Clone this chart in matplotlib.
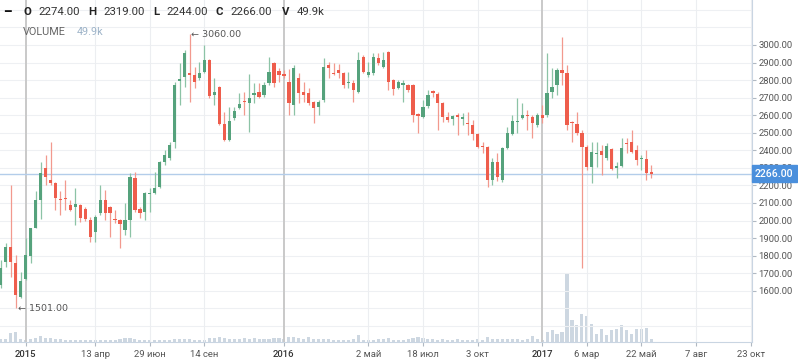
import matplotlib
matplotlib.use('Agg')
import matplotlib.pyplot as plt
import matplotlib.dates as mdates
import matplotlib.transforms as mtransforms
import pandas as pd

first_week = '2014-12-01'
opens = [1632, 1763, 1849, 1758, 1564, 1667, 1798, 1957, 2117, 2299,
         2231, 2214, 2123, 2128, 2088, 2077, 2088, 2066, 2003, 1934,
         2043, 2117, 2077, 2009, 2003, 1946, 2003, 2242, 2066, 2049,
         2151, 2157, 2191, 2333, 2356, 2447, 2795, 2818, 2840, 2829,
         2812, 2846, 2915, 2715, 2761, 2550, 2459, 2584, 2641, 2681,
         2670, 2715, 2732, 2715, 2783, 2897, 2852, 2835, 2789, 2658,
         2812, 2732, 2726, 2675, 2647, 2687, 2886, 2840, 2858, 2840,
         2783, 2783, 2732, 2932, 2829, 2840, 2926, 2875, 2960, 2801,
         2755, 2772, 2772, 2772, 2607, 2590, 2652, 2738, 2721, 2670,
         2590, 2578, 2601, 2578, 2556, 2544, 2493, 2425, 2419, 2231,
         2333, 2231, 2413, 2493, 2561, 2584, 2601, 2590, 2544, 2601,
         2601, 2732, 2772, 2858, 2840, 2561, 2550, 2499, 2419, 2305,
         2379, 2396, 2356, 2407, 2299, 2311, 2442, 2447, 2402, 2350,
         2350, 2274]
highs = [1775, 1872, 2202, 1803, 1706, 1900, 1957, 2168, 2333, 2373,
         2447, 2219, 2168, 2231, 2117, 2185, 2095, 2077, 2020, 2031,
         2202, 2174, 2080, 2060, 2008, 2100, 2271, 2276, 2077, 2165,
         2185, 2276, 2340, 2402, 2447, 2789, 2897, 2972, 3060, 2875,
         2903, 3000, 2920, 2812, 2765, 2618, 2647, 2647, 2726, 2732,
         2835, 2783, 2783, 2789, 2932, 2903, 2869, 2858, 2863, 2886,
         2840, 2789, 2755, 2680, 2687, 2926, 2903, 2897, 2892, 2846,
         2846, 2801, 2960, 2940, 2903, 2954, 2954, 2960, 2965, 2805,
         2801, 2801, 2778, 2778, 2612, 2687, 2744, 2744, 2732, 2675,
         2618, 2601, 2613, 2613, 2618, 2573, 2498, 2447, 2425, 2356,
         2385, 2420, 2533, 2601, 2698, 2670, 2630, 2601, 2613, 2658,
         2954, 2869, 2869, 3045, 2886, 2566, 2618, 2516, 2430, 2447,
         2447, 2430, 2442, 2413, 2333, 2470, 2470, 2516, 2430, 2373,
         2402, 2319]
lows = [1615, 1735, 1678, 1501, 1558, 1661, 1758, 1957, 2009, 2202,
        2202, 2060, 2031, 2060, 2055, 1974, 1991, 1997, 1877, 1877,
        2031, 2003, 1906, 1986, 1843, 1917, 1906, 2049, 2014, 2003,
        2049, 2150, 2185, 2316, 2345, 2413, 2658, 2761, 2675, 2755,
        2801, 2840, 2698, 2658, 2544, 2455, 2453, 2573, 2635, 2601,
        2504, 2670, 2698, 2704, 2772, 2761, 2789, 2812, 2601, 2601,
        2670, 2675, 2658, 2556, 2601, 2675, 2812, 2829, 2812, 2755,
        2755, 2675, 2726, 2840, 2818, 2829, 2886, 2870, 2744, 2715,
        2750, 2675, 2732, 2561, 2499, 2585, 2641, 2704, 2516, 2561,
        2561, 2544, 2487, 2544, 2487, 2459, 2413, 2385, 2191, 2202,
        2225, 2219, 2405, 2487, 2499, 2578, 2516, 2470, 2533, 2556,
        2590, 2698, 2715, 2772, 2516, 2447, 2487, 1729, 2288, 2214,
        2305, 2259, 2345, 2288, 2242, 2305, 2385, 2385, 2316, 2288,
        2231, 2244]
closes = [1729, 1849, 1763, 1575, 1655, 1803, 1957, 2117, 2271, 2248,
          2214, 2128, 2117, 2123, 2060, 2094, 2014, 2009, 1906, 2020,
          2117, 2043, 2043, 2003, 1980, 2003, 2248, 2060, 2043, 2157,
          2157, 2185, 2333, 2373, 2430, 2772, 2806, 2954, 2829, 2789,
          2840, 2915, 2709, 2732, 2550, 2459, 2567, 2624, 2664, 2675,
          2698, 2726, 2704, 2772, 2846, 2783, 2829, 2823, 2670, 2869,
          2726, 2715, 2670, 2641, 2675, 2875, 2869, 2835, 2840, 2772,
          2789, 2744, 2915, 2846, 2846, 2932, 2897, 2915, 2789, 2749,
          2789, 2783, 2744, 2601, 2596, 2647, 2715, 2726, 2670, 2590,
          2573, 2596, 2590, 2590, 2550, 2493, 2419, 2419, 2231, 2333,
          2248, 2413, 2499, 2567, 2567, 2601, 2596, 2556, 2601, 2584,
          2726, 2761, 2858, 2840, 2544, 2556, 2499, 2419, 2305, 2390,
          2385, 2373, 2425, 2293, 2311, 2413, 2436, 2390, 2345, 2356,
          2271, 2266]
volumes_k = [50, 40, 130, 150, 40, 35, 45, 60, 85, 60,
             55, 45, 40, 30, 35, 25, 30, 25, 30, 35,
             30, 25, 35, 30, 40, 65, 60, 40, 30, 25,
             30, 30, 35, 30, 35, 50, 45, 40, 45, 35,
             30, 35, 55, 60, 75, 60, 50, 40, 45, 55,
             50, 60, 50, 40, 45, 55, 60, 45, 70, 75,
             55, 50, 70, 45, 50, 40, 45, 35, 30, 35,
             30, 40, 110, 35, 30, 35, 40, 45, 55, 35,
             30, 35, 40, 55, 80, 60, 45, 40, 35, 45,
             30, 35, 40, 25, 35, 30, 40, 35, 80, 50,
             45, 45, 40, 45, 40, 35, 40, 85, 50, 35,
             150, 185, 125, 145, 1020, 335, 260, 425, 385, 275,
             125, 200, 100, 185, 190, 260, 175, 115, 200, 200,
             215, 49.9]

tick_dates = ['2015-01-05', '2015-04-13', '2015-06-29', '2015-09-14', '2016-01-04',
              '2016-05-02', '2016-07-18', '2016-10-03', '2017-01-02', '2017-03-06',
              '2017-05-22', '2017-08-07', '2017-10-23']
tick_labels = ['2015', '13 апр', '29 июн', '14 сен', '2016', '2 май', '18 июл',
               '3 окт', '2017', '6 мар', '22 май', '7 авг', '23 окт']
year_labels = {'2015', '2016', '2017'}
price_ticks = list(range(1600, 3001, 100))
grid_levels = list(range(1300, 3301, 100))
last_price = 2266

plt.rcParams['font.family'] = ['Roboto', 'DejaVu Sans']

GREEN = '#55a27c'
RED = '#ee5d4c'
GREEN_W = '#8cc3a6'
RED_W = '#f2998e'

W, H = 798, 363
fig = plt.figure(figsize=(W / 100, H / 100), dpi=100)
ax = fig.add_axes([0, 21 / H, 752 / W, 342 / H])
axv = ax.twinx()
ax.set_zorder(axv.get_zorder() + 1)
ax.patch.set_visible(False)

dates = pd.date_range(first_week, periods=len(opens), freq='7D')
x = mdates.date2num(dates)
tx = mdates.date2num(pd.to_datetime(tick_dates))

# volume
axv.bar(x, volumes_k, width=4.4, color='#cdd7e1', align='center', zorder=1)
axv.set_ylim(0, 5130)
axv.set_yticks([])
for s in axv.spines.values():
    s.set_visible(False)

# grid
for g in grid_levels:
    ax.axhline(g, color='#eef0f3', lw=0.8, zorder=0)
for t, lab in zip(tx, tick_labels):
    if lab in year_labels:
        ax.axvline(t, color='#c9c9c9', lw=1.4, zorder=0)
    else:
        ax.axvline(t, color='#eceef1', lw=0.8, zorder=0)

# last price line
ax.axhline(last_price, color='#b3cdea', lw=1.0, zorder=1)

# candles
for xi, o, h, l, c in zip(x, opens, highs, lows, closes):
    up = c >= o
    col = GREEN if up else RED
    wcol = GREEN_W if up else RED_W
    ax.vlines(xi, l, h, color=wcol, lw=0.9, zorder=2)
    lo = min(o, c)
    hgt = max(abs(c - o), 4)
    ax.bar(xi, hgt, bottom=lo, width=4.6, color=col, lw=0, zorder=3)

ax.set_xlim(x[0] - 1.2, tx[-1] + 1.8)
ax.set_ylim(1308, 3256)

# axes styling
for side in ['top', 'left']:
    ax.spines[side].set_visible(False)
ax.spines['right'].set_color('#c9d5e2')
ax.spines['bottom'].set_color('#c9d5e2')
ax.yaxis.tick_right()
ax.set_yticks(price_ticks)
ax.set_yticklabels([f'{p:.2f}' for p in price_ticks])
ax.tick_params(axis='y', length=3, width=0.8, color='#b0b8c2', pad=1.5,
               labelsize=6.8, labelcolor='#555555')
ax.set_xticks(tx)
ax.set_xticklabels(tick_labels)
ax.tick_params(axis='x', length=3, width=0.8, color='#b0b8c2', pad=3,
               labelsize=6.8, labelcolor='#555555')
for lbl in ax.get_xticklabels():
    if lbl.get_text() in year_labels:
        lbl.set_color('#333333')
        lbl.set_fontweight('medium')

# last price box
trans = mtransforms.blended_transform_factory(ax.transAxes, ax.transData)
ax.text(1.004, last_price, f'{last_price:.2f}', transform=trans, ha='left', va='center',
        fontsize=7.6, color='white', fontweight='medium', zorder=10,
        bbox=dict(boxstyle='square,pad=0.33', fc='#4a8fdc', ec='#4a8fdc'), clip_on=False)

# high/low annotations
i_hi = highs.index(max(highs))
i_lo = lows.index(min(lows))
ax.text(x[i_hi] + 2.5, highs[i_hi], f'← {highs[i_hi]:.2f}', fontsize=6.8, color='#555555',
        ha='left', va='center', family=['DejaVu Sans'], zorder=5)
ax.text(x[i_lo] + 2.5, lows[i_lo], f'← {lows[i_lo]:.2f}', fontsize=6.8, color='#555555',
        ha='left', va='center', family=['DejaVu Sans'], zorder=5)

# header
def ftxt(px, py, s, **kw):
    fig.text(px / W, 1 - py / H, s, va='center', ha='left', **kw)

ftxt(4, 12, '━', fontsize=8, color='#111111', family=['DejaVu Sans'])
items = [(23, 'O', 38, '2274.00'), (88, 'H', 103, '2319.00'), (153, 'L', 166, '2244.00'),
         (216, 'C', 230, '2266.00'), (282, 'V', 297, '49.9k')]
for lx, lt, vx, vt in items:
    ftxt(lx, 12, lt, fontsize=8.2, color='#222222', fontweight='bold')
    ftxt(vx, 12, vt, fontsize=8.2, color='#333333')
ftxt(23, 32, 'VOLUME', fontsize=7.8, color='#666666')
ftxt(77, 32, '49.9k', fontsize=7.8, color='#9db3c8')

fig.savefig('out.png', dpi=100)
